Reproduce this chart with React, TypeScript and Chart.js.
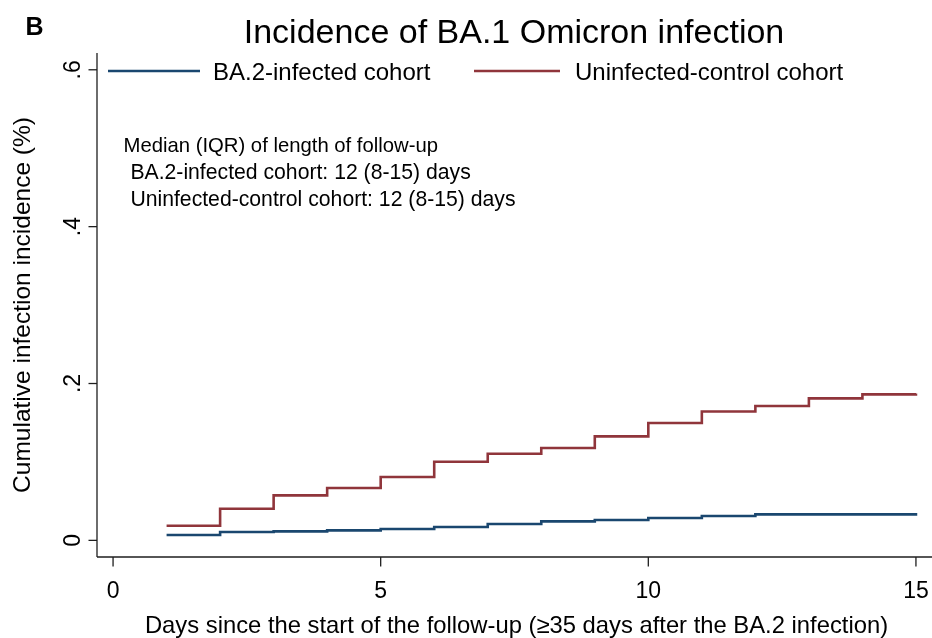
import React, { useEffect, useRef } from "react";
import { Chart, registerables } from "chart.js";

Chart.register(...registerables);

const days = [1, 2, 3, 4, 5, 6, 7, 8, 9, 10, 11, 12, 13, 14, 15];
const ba2Infected = [0.0069, 0.0107, 0.0115, 0.0127, 0.0145, 0.0171, 0.0209, 0.0242, 0.026, 0.0286, 0.0311, 0.0331, 0.0331, 0.0331, 0.0349];
const uninfectedControl = [0.0187, 0.0404, 0.0574, 0.0668, 0.0808, 0.1003, 0.1105, 0.1178, 0.1326, 0.1497, 0.1644, 0.1713, 0.181, 0.1861, 0.1874];
const xTicks = [0, 5, 10, 15];
const xTickLabels = ["0", "5", "10", "15"];
const yTicks = [0, 0.2, 0.4, 0.6];
const yTickLabels = ["0", ".2", ".4", ".6"];
const seriesNames = ["BA.2-infected cohort", "Uninfected-control cohort"];
const panelLabel = "B";
const titleText = "Incidence of BA.1 Omicron infection";
const xTitle = "Days since the start of the follow-up (\u226535 days after the BA.2 infection)";
const yTitle = "Cumulative infection incidence (%)";
const noteLines = [
  "Median (IQR) of length of follow-up",
  " BA.2-infected cohort: 12 (8-15) days",
  " Uninfected-control cohort: 12 (8-15) days",
];

const BLUE = "#1a476f";
const RED = "#90353b";
const FONT = '"Liberation Sans", Arial, Helvetica, sans-serif';

const decorPlugin = {
  id: "stataDecor",
  beforeDraw(chart: any) {
    const ctx = chart.ctx;
    ctx.save();
    ctx.fillStyle = "#ffffff";
    ctx.fillRect(0, 0, chart.width, chart.height);
    ctx.restore();
  },
  afterDraw(chart: any) {
    const ctx = chart.ctx;
    const { left, right, top, bottom } = chart.chartArea;
    const xs = chart.scales.x;
    const ys = chart.scales.y;
    ctx.save();
    ctx.strokeStyle = "#1e1e1e";
    ctx.fillStyle = "#000000";
    ctx.lineWidth = 1.3;
    // y axis line
    ctx.beginPath();
    ctx.moveTo(left, top);
    ctx.lineTo(left, bottom);
    ctx.stroke();
    // x axis line
    ctx.beginPath();
    ctx.moveTo(left, bottom);
    ctx.lineTo(right, bottom);
    ctx.stroke();
    // y ticks and labels
    ctx.font = `23px ${FONT}`;
    yTicks.forEach((v, i) => {
      const y = ys.getPixelForValue(v);
      ctx.beginPath();
      ctx.moveTo(left - 8.5, y);
      ctx.lineTo(left, y);
      ctx.stroke();
      ctx.save();
      ctx.translate(left - 17, y);
      ctx.rotate(-Math.PI / 2);
      ctx.textAlign = "center";
      ctx.textBaseline = "alphabetic";
      ctx.fillText(yTickLabels[i], 0, 0);
      ctx.restore();
    });
    // x ticks and labels
    xTicks.forEach((v, i) => {
      const x = xs.getPixelForValue(v);
      ctx.beginPath();
      ctx.moveTo(x, bottom);
      ctx.lineTo(x, bottom + 9.5);
      ctx.stroke();
      ctx.textAlign = "center";
      ctx.textBaseline = "alphabetic";
      ctx.fillText(xTickLabels[i], x, 597.5);
    });
    // axis titles
    ctx.font = `23.8px ${FONT}`;
    ctx.textAlign = "center";
    ctx.fillText(xTitle, 516.5, 633);
    ctx.font = `24.5px ${FONT}`;
    ctx.save();
    ctx.translate(30, (top + bottom) / 2);
    ctx.rotate(-Math.PI / 2);
    ctx.fillText(yTitle, 0, 0);
    ctx.restore();
    // title
    ctx.font = `34px ${FONT}`;
    ctx.textAlign = "center";
    ctx.fillText(titleText, 514, 42.5);
    // panel label
    ctx.font = `bold 25px ${FONT}`;
    ctx.textAlign = "left";
    ctx.fillText(panelLabel, 25.5, 35);
    // legend
    ctx.font = `24px ${FONT}`;
    ctx.lineWidth = 2.5;
    const legendItems = [
      { color: BLUE, x0: 108, x1: 200, tx: 213 },
      { color: RED, x0: 474, x1: 560, tx: 575 },
    ];
    legendItems.forEach((it, i) => {
      ctx.strokeStyle = it.color;
      ctx.beginPath();
      ctx.moveTo(it.x0, 71);
      ctx.lineTo(it.x1, 71);
      ctx.stroke();
      ctx.fillText(seriesNames[i], it.tx, 80);
    });
    // note
    const noteSize = [20.3, 21.2, 21.2];
    const noteX = [123.5, 124.5, 124.5];
    const noteY = [151.5, 178.5, 205.5];
    noteLines.forEach((t, i) => {
      ctx.font = `${noteSize[i]}px ${FONT}`;
      ctx.fillText(t, noteX[i], noteY[i]);
    });
    ctx.restore();
  },
};

export default function App() {
  const canvasRef = useRef<HTMLCanvasElement | null>(null);

  useEffect(() => {
    const canvas = canvasRef.current;
    if (!canvas) return;
    const chart = new Chart(canvas, {
      type: "line",
      data: {
        datasets: [
          {
            label: seriesNames[0],
            data: days.map((d, i) => ({ x: d, y: ba2Infected[i] })),
            borderColor: BLUE,
            backgroundColor: BLUE,
            borderWidth: 2.6,
            pointRadius: 0,
            stepped: true,
            fill: false,
          },
          {
            label: seriesNames[1],
            data: days.map((d, i) => ({ x: d, y: uninfectedControl[i] })),
            borderColor: RED,
            backgroundColor: RED,
            borderWidth: 2.6,
            pointRadius: 0,
            stepped: true,
            fill: false,
          },
        ],
      },
      options: {
        responsive: false,
        maintainAspectRatio: false,
        animation: false,
        layout: { padding: { left: 97, top: 53, right: 0, bottom: 81 } },
        scales: {
          x: { type: "linear", min: -0.3, max: 15.3, display: false },
          y: { type: "linear", min: -0.0212, max: 0.6214, display: false },
        },
        plugins: {
          legend: { display: false },
          title: { display: false },
          tooltip: { enabled: false },
        },
      },
      plugins: [decorPlugin],
    });
    return () => chart.destroy();
  }, []);

  return (
    <div style={{ position: "fixed", left: 0, top: 0, width: 932, height: 638, background: "#fff" }}>
      <canvas ref={canvasRef} width={932} height={638} style={{ display: "block", width: 932, height: 638 }} />
    </div>
  );
}
